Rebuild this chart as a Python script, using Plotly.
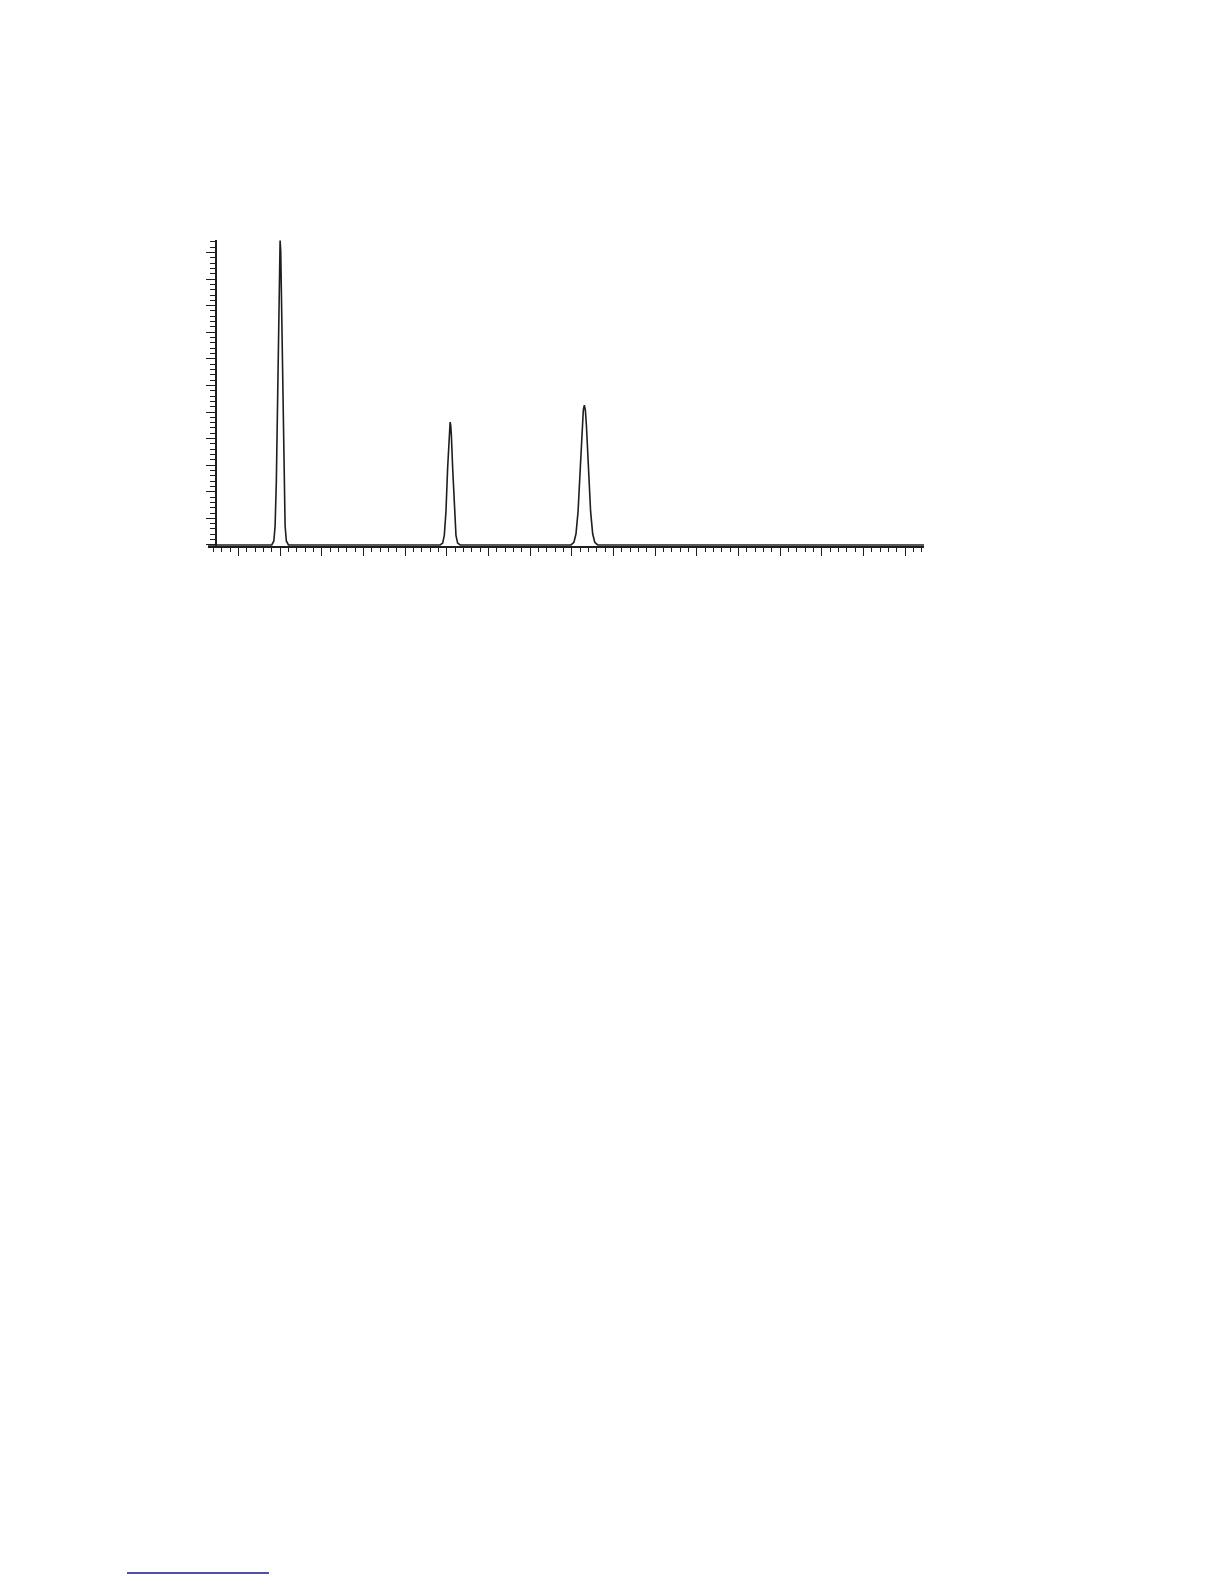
import plotly.graph_objs as go

#___data____________________________________________________

# retention positions (major tick = 1 unit) and signal heights (major tick = 1 unit)
peak1_x = [1.80, 1.85, 1.88, 1.91, 1.94, 1.97, 1.985, 2.00, 2.015, 2.03, 2.06, 2.09, 2.12, 2.15, 2.20]
peak1_y = [0.00, 0.15, 0.72, 2.40, 5.70, 9.60, 11.05, 11.45, 11.05, 9.60, 5.70, 2.40, 0.72, 0.15, 0.00]

peak2_x = [5.84, 5.90, 5.94, 5.98, 6.02, 6.05, 6.065, 6.08, 6.095, 6.11, 6.14, 6.18, 6.22, 6.26, 6.32]
peak2_y = [0.00, 0.07, 0.36, 1.26, 2.90, 4.11, 4.49, 4.62, 4.49, 4.11, 2.90, 1.26, 0.36, 0.07, 0.00]

peak3_x = [8.98, 9.05, 9.10, 9.15, 9.20, 9.25, 9.275, 9.30, 9.325, 9.35, 9.40, 9.45, 9.50, 9.55, 9.62]
peak3_y = [0.00, 0.10, 0.42, 1.27, 2.80, 4.49, 5.06, 5.26, 5.06, 4.49, 2.80, 1.27, 0.42, 0.10, 0.00]

x_start = 0.27
x_end = 17.45
y_bottom = -0.04
y_top = 11.47

#___build the trace____________________________________________

xs = [x_start] + peak1_x + peak2_x + peak3_x + [x_end]
ys = [0.0] + peak1_y + peak2_y + peak3_y + [0.0]

trace = go.Scatter(x=xs, y=ys,
                   mode='lines',
                   line=dict(color='#1e1e1e', width=1.6),
                   hoverinfo='none')

#___layout_____________________________________________________

# figure is offset by the 8px body margin of the page
W = 1208
H = 1568

xaxis = dict(domain=[200 / W, 916 / W],
             range=[x_start, x_end],
             showgrid=False, zeroline=False,
             showline=True, linecolor='#1e1e1e', linewidth=1.5,
             ticks='outside', ticklen=8, tickwidth=1.3, tickcolor='#1e1e1e',
             tick0=0, dtick=1,
             minor=dict(ticks='outside', ticklen=4, tickwidth=1.1, tickcolor='#1e1e1e',
                        tick0=0, dtick=0.2, showgrid=False),
             showticklabels=False)

yaxis = dict(domain=[1 - 538 / H, 1 - 232 / H],
             range=[y_bottom, y_top],
             anchor='free', position=208 / W,
             showgrid=False, zeroline=False,
             showline=True, linecolor='#1e1e1e', linewidth=1.5,
             ticks='outside', ticklen=9, tickwidth=1.3, tickcolor='#1e1e1e',
             tick0=0, dtick=1,
             minor=dict(ticks='outside', ticklen=5.5, tickwidth=1.1, tickcolor='#1e1e1e',
                        tick0=0, dtick=0.2, showgrid=False),
             showticklabels=False)

layout = go.Layout(width=W, height=H,
                   margin=dict(l=0, r=0, t=0, b=0),
                   paper_bgcolor='white', plot_bgcolor='white',
                   showlegend=False,
                   xaxis=xaxis, yaxis=yaxis,
                   # short blue footnote rule at the bottom of the page
                   shapes=[dict(type='line', xref='paper', yref='paper',
                                x0=119 / W, x1=261 / W,
                                y0=1 - 1565 / H, y1=1 - 1565 / H,
                                line=dict(color='#16168c', width=1.6))])

fig = go.Figure(data=[trace], layout=layout)
fig.write_html("out.html")
